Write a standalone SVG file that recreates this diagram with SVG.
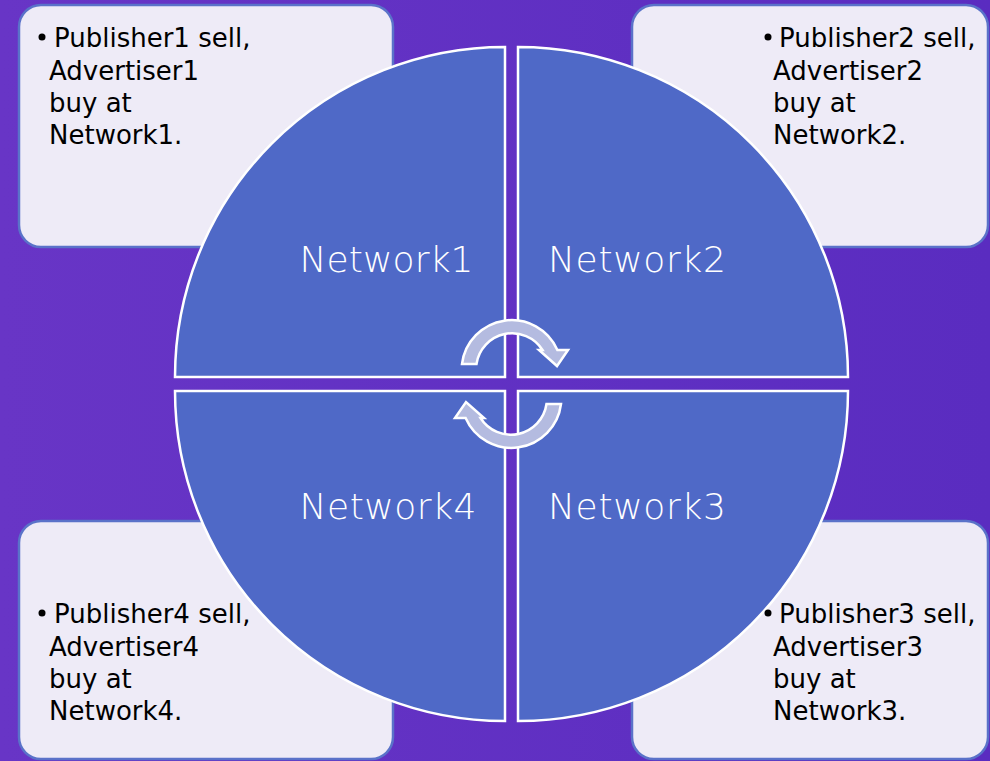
<svg xmlns="http://www.w3.org/2000/svg" width="990" height="761" viewBox="0 0 990 761">
<defs>
<linearGradient id="bg" x1="0" y1="0" x2="1" y2="0">
<stop offset="0" stop-color="#6835c6"/>
<stop offset="1" stop-color="#5a2cc0"/>
</linearGradient>
<style>
.box{fill:#eeebf7;stroke:#5a72c9;stroke-width:2.5}
.quad{fill:#4f69c7;stroke:#ffffff;stroke-width:2.5}
.lbl{font-family:"DejaVu Sans","Liberation Sans",sans-serif;font-size:36px;fill:#ffffff;font-weight:200}
.body{font-family:"DejaVu Sans","Liberation Sans",sans-serif;font-size:26px;fill:#000000}
.bullet{fill:#000000}
.arrow{fill:#b4bbe0;stroke:#ffffff;stroke-width:2.5}
</style>
</defs>
<rect width="990" height="761" fill="url(#bg)"/>
<g id="box1">
<rect class="box" x="19" y="5" width="374" height="242" rx="22"/>
<circle class="bullet" cx="42" cy="37" r="3.5"/>
<text class="body"><tspan x="54" y="47">Publisher1 sell,</tspan><tspan x="49" y="80">Advertiser1</tspan><tspan x="49" y="112">buy at</tspan><tspan x="49" y="144">Network1.</tspan></text>
</g>
<g id="box2">
<rect class="box" x="632" y="5" width="356" height="242" rx="22"/>
<circle class="bullet" cx="768" cy="37" r="3.5"/>
<text class="body"><tspan x="779" y="47">Publisher2 sell,</tspan><tspan x="773" y="80">Advertiser2</tspan><tspan x="773" y="112">buy at</tspan><tspan x="773" y="144">Network2.</tspan></text>
</g>
<g id="box4">
<rect class="box" x="19" y="521" width="374" height="238" rx="22"/>
<circle class="bullet" cx="42" cy="613" r="3.5"/>
<text class="body"><tspan x="54" y="623">Publisher4 sell,</tspan><tspan x="49" y="656">Advertiser4</tspan><tspan x="49" y="688">buy at</tspan><tspan x="49" y="720">Network4.</tspan></text>
</g>
<g id="box3">
<rect class="box" x="632" y="521" width="356" height="238" rx="22"/>
<text class="body"><tspan x="779" y="623">Publisher3 sell,</tspan><tspan x="773" y="656">Advertiser3</tspan><tspan x="773" y="688">buy at</tspan><tspan x="773" y="720">Network3.</tspan></text>
</g>
<g id="network1">
<path class="quad" d="M505,377 L175,377 A330,330 0 0 1 505,47 Z"/>
<text class="lbl" x="386.5" y="272" text-anchor="middle" textLength="174">Network1</text>
</g>
<g id="network2">
<path class="quad" d="M518,377 L518,47 A330,330 0 0 1 848,377 Z"/>
<text class="lbl" x="637" y="272" text-anchor="middle" textLength="178">Network2</text>
</g>
<g id="network3">
<path class="quad" d="M518,391 L848,391 A330,330 0 0 1 518,721 Z"/>
<text class="lbl" x="637" y="519" text-anchor="middle" textLength="178">Network3</text>
</g>
<g id="network4">
<path class="quad" d="M505,391 L505,721 A330,330 0 0 1 175,391 Z"/>
<text class="lbl" x="388" y="519" text-anchor="middle" textLength="177">Network4</text>
</g>
<g id="bullet3"><circle class="bullet" cx="768" cy="613" r="3.5"/></g>
<g id="connectors">
<path class="arrow" d="M462,364 A50,50 0 0 1 557.4,350 L568,350 L557,366 L539,350 L542.5,350 A36,36 0 0 0 476.5,364 Z"/>
<path class="arrow" transform="rotate(180 511.5 384)" d="M462,364 A50,50 0 0 1 557.4,350 L568,350 L557,366 L539,350 L542.5,350 A36,36 0 0 0 476.5,364 Z"/>
</g>
</svg>
